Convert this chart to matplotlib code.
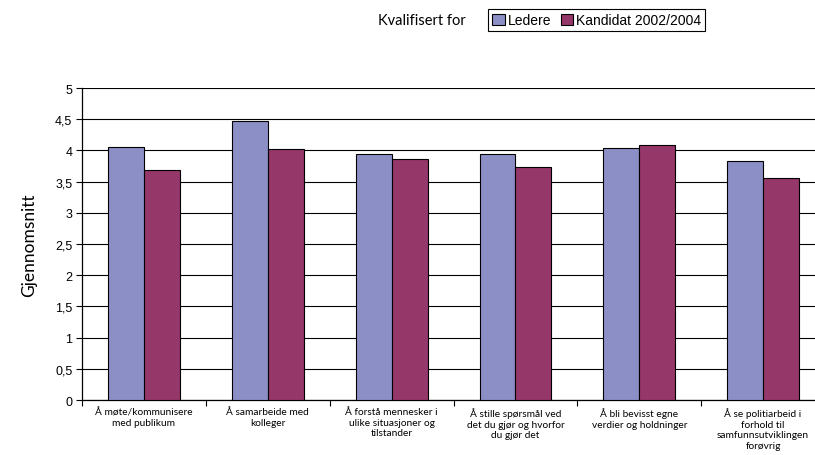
import matplotlib
matplotlib.use("Agg")
import matplotlib.pyplot as plt
import numpy as np
from matplotlib.ticker import FuncFormatter, MultipleLocator

categories = [
    "Å møte/kommunisere\nmed publikum",
    "Å samarbeide med\nkolleger",
    "Å forstå mennesker i\nulike situasjoner og\ntilstander",
    "Å stille spørsmål ved\ndet du gjør og hvorfor\ndu gjør det",
    "Å bli bevisst egne\nverdier og holdninger",
    "Å se politiarbeid i\nforhold til\nsamfunnsutviklingen\nforøvrig",
]
ledere = [4.05, 4.47, 3.95, 3.95, 4.04, 3.83]
kandidat = [3.69, 4.03, 3.86, 3.73, 4.09, 3.56]
series_names = ["Ledere", "Kandidat 2002/2004"]

BLUE = "#8C8FC6"
PLUM = "#963769"
BAR_W = 0.29

plt.rcParams["font.family"] = ["Liberation Sans", "DejaVu Sans"]

fig = plt.figure(figsize=(8.15, 4.56), dpi=100)
ax = fig.add_axes([0.1006, 0.1206, 0.9117, 0.6842])

x = np.arange(len(categories))
ax.bar(x - BAR_W / 2, ledere, BAR_W, color=BLUE, edgecolor="black",
       linewidth=0.8, label=series_names[0], zorder=3)
ax.bar(x + BAR_W / 2, kandidat, BAR_W, color=PLUM, edgecolor="black",
       linewidth=0.8, label=series_names[1], zorder=3)

ax.set_xlim(-0.5, len(categories) - 0.5)
ax.set_ylim(0, 5)
ax.yaxis.set_major_locator(MultipleLocator(0.5))
ax.yaxis.set_major_formatter(
    FuncFormatter(lambda v, _: f"{v:g}".replace(".", ","))
)
ax.grid(axis="y", color="black", linewidth=0.8, zorder=0)
ax.tick_params(axis="y", labelsize=9, length=4, width=0.8, pad=3)

# category labels in the middle, small ticks on the boundaries
ax.set_xticks(x)
ax.set_xticklabels(categories, fontsize=7.3, family="Lato", linespacing=1.25)
ax.tick_params(axis="x", which="major", length=0, pad=5)
ax.set_xticks(np.arange(-0.5, len(categories)), minor=True)
ax.tick_params(axis="x", which="minor", length=4, width=0.8)

for side in ("top", "right"):
    ax.spines[side].set_visible(False)
for side in ("left", "bottom"):
    ax.spines[side].set_linewidth(0.9)

ax.set_ylabel("Gjennomsnitt", fontsize=12.5, family="Lato", labelpad=13)

fig.text(0.572, 0.955, "Kvalifisert for", fontsize=10.5, family="Lato",
         ha="right", va="center")
fig.legend(loc="upper left", bbox_to_anchor=(488 / 815, 1 - 10 / 456),
           ncol=2, fontsize=10, frameon=True, fancybox=False,
           edgecolor="black", framealpha=1, borderpad=0.3,
           handlelength=0.9, handleheight=0.9, handletextpad=0.2,
           columnspacing=0.7, borderaxespad=0)
fig.legends[0].get_frame().set_linewidth(0.8)

fig.savefig("out.png", dpi=100)
